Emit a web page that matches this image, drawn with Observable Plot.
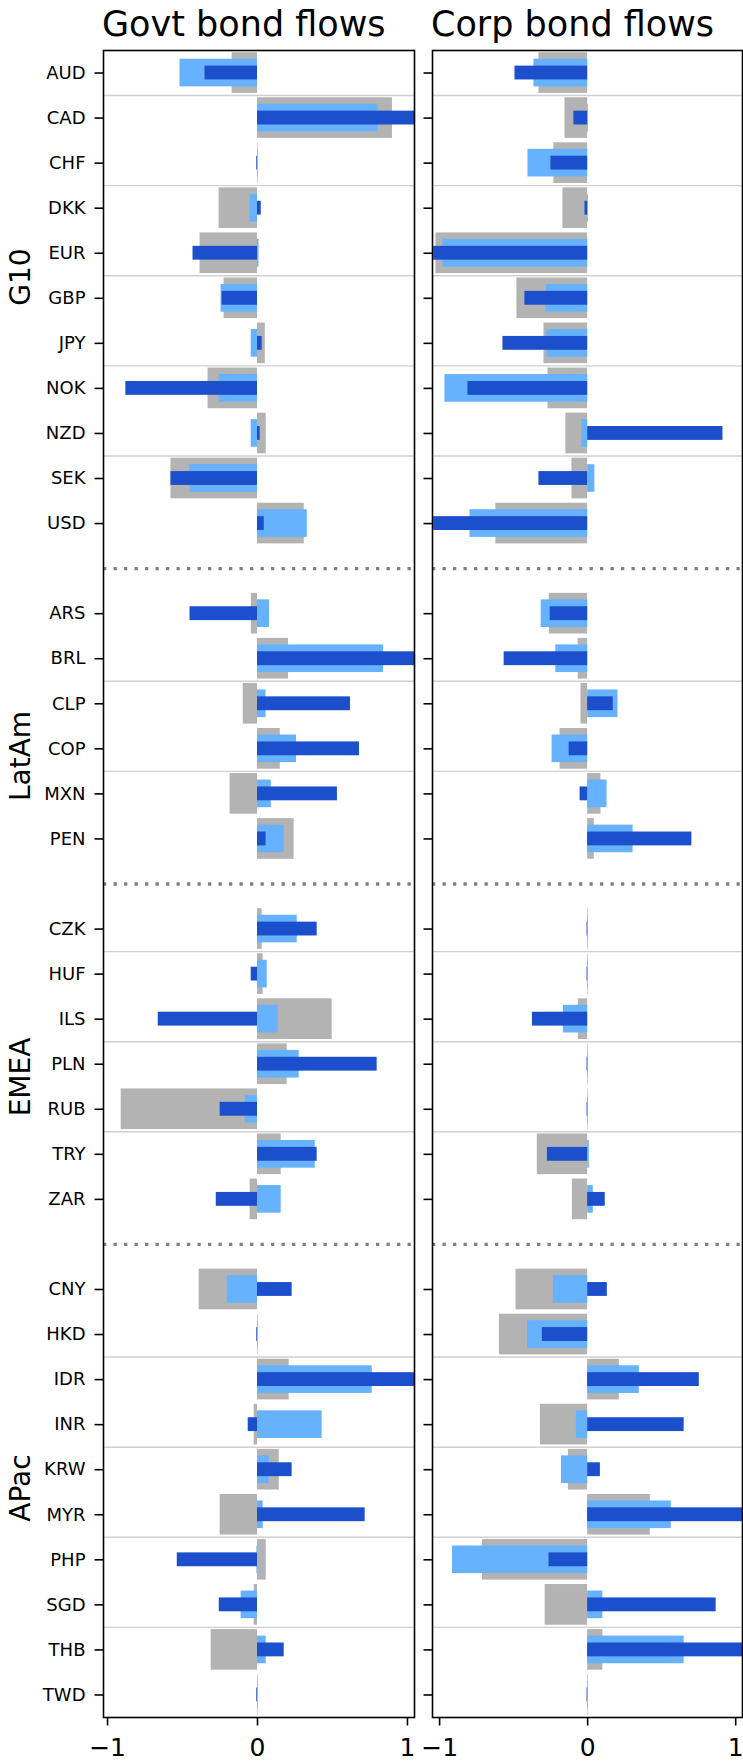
<!DOCTYPE html>
<html><head><meta charset="utf-8">
<script src="https://cdn.jsdelivr.net/npm/d3@7"></script>
<script src="https://cdn.jsdelivr.net/npm/@observablehq/plot@0.6"></script>
<style>
body{margin:0;background:#fff;}
#wrap{position:relative;width:743px;height:1761px;overflow:hidden;font-family:"DejaVu Sans";}
.title{position:absolute;top:7px;font-size:35px;line-height:35px;color:#000;white-space:nowrap;font-family:"DejaVu Sans";}
.panel{position:absolute;top:40px;}
.glabel{position:absolute;font-size:28px;line-height:28px;color:#000;white-space:nowrap;font-family:"DejaVu Sans";transform:translate(-50%,-50%) rotate(-90deg);}
</style></head>
<body><div id="wrap">
<div class="title" style="left:102px">Govt bond flows</div>
<div class="title" style="left:431px">Corp bond flows</div>
<div class="panel" id="p1" style="left:0;width:423px"></div>
<div class="panel" id="p2" style="left:423px;width:320px"></div>
</div>
<script>
// ---- data ----
const g10 = ["AUD","CAD","CHF","DKK","EUR","GBP","JPY","NOK","NZD","SEK","USD"];
const latam = ["ARS","BRL","CLP","COP","MXN","PEN"];
const emea = ["CZK","HUF","ILS","PLN","RUB","TRY","ZAR"];
const apac = ["CNY","HKD","IDR","INR","KRW","MYR","PHP","SGD","THB","TWD"];
const groupNames = ["G10","LatAm","EMEA","APac"];
const separators = ["sep1","sep2","sep3"];
const dividerAfter = ["AUD","CHF","EUR","JPY","NZD","BRL","COP","CZK","ILS","RUB","HKD","INR","MYR","SGD"];
// group label anchor currency and shift (in rows)
const groupAnchor = ["GBP","COP","PLN","KRW"];
const groupShift = [-0.46, 0.17, 0.3, 0.42];

const govtGray = [-0.169,0.90,0.004,-0.256,-0.383,-0.223,0.052,-0.33,0.058,-0.577,0.312,
  -0.041,0.207,-0.095,0.152,-0.183,0.244,
  0.031,0.038,0.498,0.198,-0.909,0.158,-0.049,
  -0.389,0.004,0.211,-0.022,0.145,-0.249,0.058,-0.022,-0.309,0.004];
const govtLight = [-0.517,0.805,0.004,-0.049,0.01,-0.243,-0.042,-0.256,-0.042,-0.45,0.332,
  0.080,0.84,0.057,0.26,0.092,0.178,
  0.265,0.065,0.138,0.278,-0.082,0.385,0.158,
  -0.202,0.004,0.765,0.431,0.078,0.038,-0.004,-0.109,0.058,0.004];
const govtDark = [-0.35,1.1,-0.005,0.025,-0.43,-0.236,0.031,-0.878,0.018,-0.577,0.045,
  -0.45,1.1,0.62,0.68,0.533,0.057,
  0.398,-0.042,-0.662,0.798,-0.249,0.398,-0.275,
  0.231,-0.005,1.1,-0.062,0.231,0.718,-0.535,-0.255,0.178,-0.005];
const corpGray = [-0.329,-0.153,-0.228,-0.167,-1.025,-0.478,-0.295,-0.268,-0.147,-0.106,-0.62,
  -0.259,-0.064,-0.045,-0.186,0.09,0.045,
  0.004,0.004,-0.063,0.004,0.004,-0.34,-0.103,
  -0.484,-0.596,0.214,-0.319,-0.13,0.423,-0.71,-0.287,0.103,0.004];
const corpLight = [-0.363,0.005,-0.403,0.005,-0.978,-0.282,-0.275,-0.964,-0.039,0.049,-0.795,
  -0.314,-0.215,0.205,-0.24,0.131,0.307,
  0.004,0.004,-0.164,0.004,0.004,0.011,0.038,
  -0.231,-0.407,0.349,-0.076,-0.177,0.565,-0.913,0.103,0.652,0.004];
const corpDark = [-0.491,-0.093,-0.248,-0.018,-1.04,-0.424,-0.572,-0.809,0.914,-0.329,-1.04,
  -0.253,-0.564,0.173,-0.125,-0.051,0.704,
  -0.004,-0.004,-0.373,-0.004,-0.004,-0.272,0.119,
  0.133,-0.306,0.754,0.652,0.086,1.1,-0.261,0.868,1.1,-0.004];
const xTicks = [-1, 0, 1];

// ---- build ----
const currencies = [...g10, ...latam, ...emea, ...apac];
const slots = [...g10, separators[0], ...latam, separators[1], ...emea, separators[2], ...apac];
const GRAY = "#b3b3b3", LIGHT = "#66b2ff", DARK = "#1c4fcc";
const PANEL_TOP = 40;

function rowsOf(a, b, c) {
  return currencies.map((cur, i) => ({cur, gray: a[i], light: b[i], dark: c[i]}));
}

function panel(rows, {width, marginLeft, marginRight, xDomain, labels}) {
  const H = 1721, mT = 10, mB = 44;
  const step = (H - mT - mB) / slots.length;
  const marks = [
    Plot.barX(rows, {y: "cur", x1: 0, x2: "gray", fill: GRAY, insetTop: 2.2, insetBottom: 2.2, clip: true}),
    Plot.barX(rows, {y: "cur", x1: 0, x2: "light", fill: LIGHT, insetTop: 8.7, insetBottom: 8.7, clip: true}),
    Plot.barX(rows, {y: "cur", x1: 0, x2: "dark", fill: DARK, insetTop: 15.6, insetBottom: 15.6, clip: true}),
    Plot.ruleY(dividerAfter, {y: d => d, dy: step / 2, stroke: "#d0d0d0", strokeWidth: 1.4}),
    Plot.ruleY(separators, {y: d => d, stroke: "#808080", strokeWidth: 3.3, strokeDasharray: "3.3,7.2"}),
    Plot.frame({stroke: "#000", strokeWidth: 1.6}),
    Plot.axisY({ticks: currencies, tickSize: 8.5, tickPadding: 9.5, fontSize: 18, strokeWidth: 1.6,
      tickFormat: labels ? (d => d) : (() => ""), label: null}),
    Plot.axisX({ticks: xTicks, tickSize: 8.5, tickPadding: 12, fontSize: 25, strokeWidth: 1.6,
      tickFormat: d3.format("d"), label: null})
  ];
  return Plot.plot({
    width, height: H, marginTop: mT, marginBottom: mB, marginLeft, marginRight,
    x: {domain: xDomain},
    y: {domain: slots, padding: 0, round: false},
    style: {fontFamily: "DejaVu Sans", fontSize: "18px", background: "transparent", overflow: "visible", color: "#000"},
    marks
  });
}

const left = panel(rowsOf(govtGray, govtLight, govtDark),
  {width: 423, marginLeft: 103, marginRight: 9, xDomain: [-1.027, 1.047], labels: true});
const right = panel(rowsOf(corpGray, corpLight, corpDark),
  {width: 320, marginLeft: 9, marginRight: 1, xDomain: [-1.048, 1.046], labels: false});
document.getElementById("p1").appendChild(left);
document.getElementById("p2").appendChild(right);

// group labels positioned through the plot's y scale
const ys = left.scale("y");
const wrap = document.getElementById("wrap");
groupNames.forEach((g, i) => {
  const yc = PANEL_TOP + ys.apply(groupAnchor[i]) + ys.bandwidth / 2 + groupShift[i] * ys.step;
  const el = document.createElement("div");
  el.className = "glabel";
  el.textContent = g;
  el.style.left = "21px";
  el.style.top = yc + "px";
  wrap.appendChild(el);
});
</script>
</body></html>
